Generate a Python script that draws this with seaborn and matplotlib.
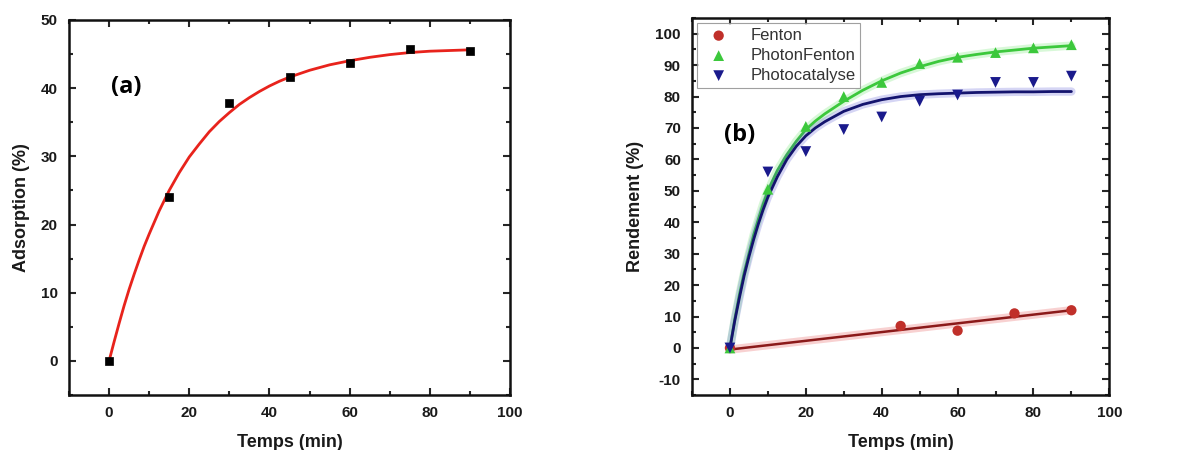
import matplotlib
matplotlib.use("Agg")
import matplotlib.pyplot as plt
import seaborn as sns
from matplotlib.ticker import MultipleLocator

# ---- data (a) ----
ads_t = [0, 15, 30, 45, 60, 75, 90]
ads_y = [0, 24.0, 37.8, 41.6, 43.6, 45.7, 45.4]
ads_fit_t = [0, 1.25, 2.5, 3.75, 5, 6.25, 7.5, 8.75, 10, 11.25, 12.5, 13.75, 15, 17.5, 20, 22.5, 25, 27.5, 30,
             32.5, 35, 37.5, 40, 42.5, 45, 50, 55, 60, 65, 70, 75, 80, 85, 90]
ads_fit_y = [0, 2.8, 5.5, 8.1, 10.5, 12.7, 14.8, 16.8, 18.6, 20.3, 22.0, 23.5, 25.0, 27.6, 29.9, 31.8, 33.6, 35.1, 36.4,
             37.6, 38.6, 39.5, 40.3, 41.0, 41.6, 42.6, 43.4, 44.0, 44.5, 44.9, 45.2, 45.4, 45.5, 45.6]

# ---- data (b) ----
fen_t = [0, 45, 60, 75, 90]
fen_y = [0, 7.0, 5.5, 11.0, 12.0]
fen_fit_t = [0, 90]
fen_fit_y = [-0.5, 12.0]

pf_t = [0, 10, 20, 30, 40, 50, 60, 70, 80, 90]
pf_y = [0, 50.5, 70.5, 80.0, 84.5, 90.5, 92.5, 94.0, 95.5, 96.5]
pf_fit_t = [0, 1.25, 2.5, 3.75, 5, 6.25, 7.5, 8.75, 10, 12.5, 15, 17.5, 20, 22.5, 25, 30, 35, 40, 45, 50, 55, 60,
            65, 70, 75, 80, 85, 90]
pf_fit_y = [0, 9, 17, 24, 30, 36, 41, 45.8, 50, 56.5, 61.5, 65.8, 69.5, 72.2, 74.5, 78.5, 82.0, 85.0, 87.5, 89.5,
            91.2, 92.5, 93.4, 94.2, 94.8, 95.4, 95.8, 96.2]

pc_t = [0, 10, 20, 30, 40, 50, 60, 70, 80, 90]
pc_y = [0, 56.0, 62.5, 69.5, 73.5, 78.5, 80.5, 84.5, 84.5, 86.5]
pc_fit_t = [0, 1.25, 2.5, 3.75, 5, 6.25, 7.5, 8.75, 10, 12.5, 15, 17.5, 20, 22.5, 25, 30, 35, 40, 45, 50, 55, 60,
            65, 70, 75, 80, 85, 90]
pc_fit_y = [0, 8.5, 16, 23, 29, 34.5, 39.5, 44, 48, 54.5, 60, 64.2, 67.5, 70.0, 72.0, 75.3, 77.5, 79.0, 80.0, 80.6,
            80.9, 81.1, 81.3, 81.4, 81.5, 81.5, 81.6, 81.6]

sns.set_style("ticks")
plt.rcParams['font.family'] = ['Liberation Sans', 'DejaVu Sans']
plt.rcParams['axes.unicode_minus'] = False

fig = plt.figure(figsize=(11.89, 4.5), dpi=100)
axa = fig.add_axes([0.058, 0.122, 0.371, 0.834])
axb = fig.add_axes([0.582, 0.122, 0.351, 0.838])

def style_axes(ax, ymaj, ymin):
    ax.xaxis.set_major_locator(MultipleLocator(20))
    ax.xaxis.set_minor_locator(MultipleLocator(10))
    ax.yaxis.set_major_locator(MultipleLocator(ymaj))
    ax.yaxis.set_minor_locator(MultipleLocator(ymin))
    ax.tick_params(which='both', direction='in', top=True, right=True, width=1.5)
    ax.tick_params(which='major', length=5, labelsize=11, pad=8)
    ax.tick_params(which='minor', length=3)
    for lab in ax.get_xticklabels() + ax.get_yticklabels():
        lab.set_fontweight('bold')
        lab.set_color('#1a1a1a')
    for s in ax.spines.values():
        s.set_linewidth(1.8)
        s.set_color('#111111')

# ---- panel (a) ----
sns.lineplot(x=ads_fit_t, y=ads_fit_y, ax=axa, color='#e8231c', lw=2, sort=True)
sns.scatterplot(x=ads_t, y=ads_y, ax=axa, marker='s', color='black', s=40, edgecolor='black', zorder=5)
axa.set_xlim(-10, 100)
axa.set_ylim(-5, 50)
style_axes(axa, 10, 5)
axa.set_xlabel('Temps (min)', fontsize=13, fontweight='bold', labelpad=10, color='#1a1a1a')
axa.set_ylabel('Adsorption (%)', fontsize=13, fontweight='bold', labelpad=8, color='#1a1a1a')
axa.text(0.5, 39.3, '(a)', fontsize=17, fontweight='bold', family='Open Sans', color='black')

# ---- panel (b) ----
glow = dict(lw=6, alpha=0.22)
sns.lineplot(x=fen_fit_t, y=fen_fit_y, ax=axb, color='#e03030', **glow)
sns.lineplot(x=fen_fit_t, y=fen_fit_y, ax=axb, color='#8b1a1a', lw=1.8)
sns.lineplot(x=pf_fit_t, y=pf_fit_y, ax=axb, color='#50e050', **glow)
sns.lineplot(x=pf_fit_t, y=pf_fit_y, ax=axb, color='#3cc83c', lw=2)
sns.lineplot(x=pc_fit_t, y=pc_fit_y, ax=axb, color='#4040d0', **glow)
sns.lineplot(x=pc_fit_t, y=pc_fit_y, ax=axb, color='#14146e', lw=2)

sns.scatterplot(x=fen_t, y=fen_y, ax=axb, marker='o', color='#c0302a', s=55, edgecolor='none', label='Fenton', zorder=5)
sns.scatterplot(x=pf_t, y=pf_y, ax=axb, marker='^', color='#3cc83c', s=60, edgecolor='none', label='PhotonFenton', zorder=5)
sns.scatterplot(x=pc_t, y=pc_y, ax=axb, marker='v', color='#1a1a8c', s=60, edgecolor='none', label='Photocatalyse', zorder=5)
axb.set_xlim(-10, 100)
axb.set_ylim(-15, 105)
style_axes(axb, 10, 5)
axb.set_xlabel('Temps (min)', fontsize=13, fontweight='bold', labelpad=10, color='#1a1a1a')
axb.set_ylabel('Rendement (%)', fontsize=13, fontweight='bold', labelpad=8, color='#1a1a1a')
axb.text(-1.5, 66, '(b)', fontsize=17, fontweight='bold', family='Open Sans', color='black')

leg = axb.legend(loc='upper left', fontsize=12, frameon=True, fancybox=False,
                 borderaxespad=0.3, handletextpad=0.9, labelspacing=0.3, borderpad=0.3)
leg.get_frame().set_edgecolor('#888888')
leg.get_frame().set_linewidth(0.8)
for t in leg.get_texts():
    t.set_color('#333333')

fig.savefig('out.png', dpi=100)
